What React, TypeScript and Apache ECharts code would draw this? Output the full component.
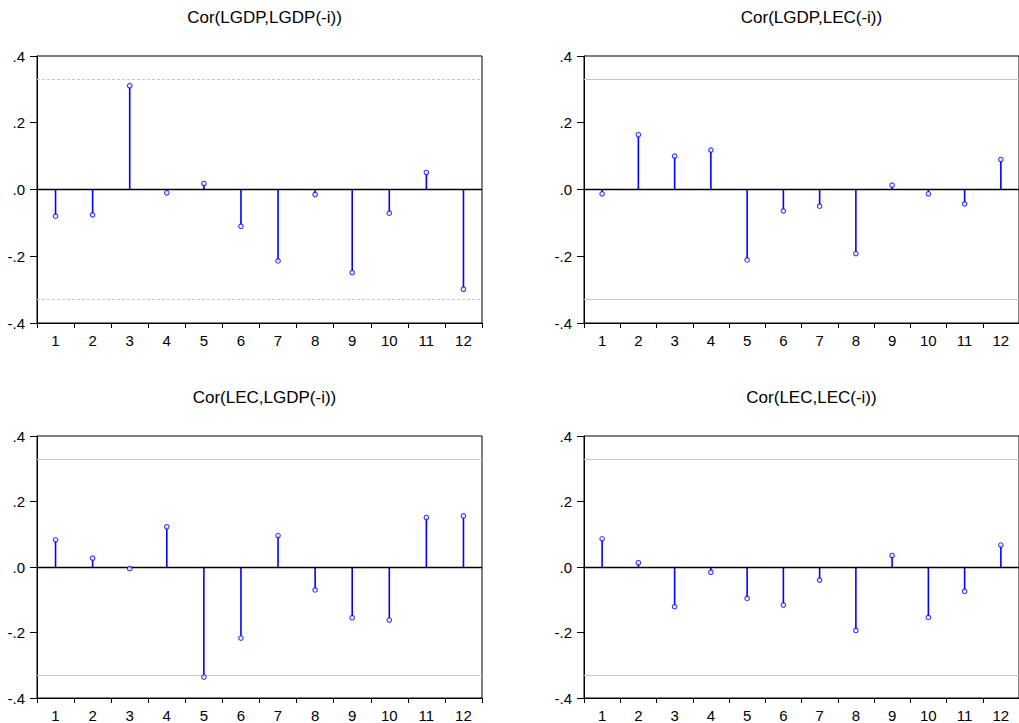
import React, { useEffect, useRef } from "react";
import * as echarts from "echarts";

const lags = ["1", "2", "3", "4", "5", "6", "7", "8", "9", "10", "11", "12"];
const titles = ["Cor(LGDP,LGDP(-i))", "Cor(LGDP,LEC(-i))", "Cor(LEC,LGDP(-i))", "Cor(LEC,LEC(-i))"];
const corLgdpLgdp = [-0.080, -0.076, 0.311, -0.010, 0.018, -0.110, -0.214, -0.015, -0.249, -0.071, 0.051, -0.299];
const corLgdpLec = [-0.013, 0.164, 0.100, 0.118, -0.211, -0.064, -0.050, -0.192, 0.013, -0.013, -0.043, 0.090];
const corLecLgdp = [0.083, 0.027, -0.005, 0.123, -0.336, -0.217, 0.096, -0.070, -0.155, -0.162, 0.151, 0.156];
const corLecLec = [0.086, 0.013, -0.121, -0.016, -0.096, -0.116, -0.040, -0.194, 0.035, -0.154, -0.074, 0.067];
const panels = [corLgdpLgdp, corLgdpLec, corLecLgdp, corLecLec];
const bandValue = 0.328;
const yTickLabels: Record<string, string> = { "0.4": ".4", "0.2": ".2", "0": ".0", "-0.2": "-.2", "-0.4": "-.4" };

const FONT = "Liberation Sans, Arial, sans-serif";

export default function App() {
  const ref = useRef<HTMLDivElement>(null);
  useEffect(() => {
    if (!ref.current) return;
    const chart = echarts.init(ref.current, undefined, { renderer: "svg" });
    const lefts = [37, 584, 37, 584];
    const tops = [56, 56, 436, 436];
    const W = 445;
    const H = 267;
    const grids = panels.map((_, i) => ({
      left: lefts[i],
      top: tops[i],
      width: W,
      height: H,
      show: true,
      borderColor: "#000",
      borderWidth: 1,
      backgroundColor: "#fff",
    }));
    const xAxes = panels.map((_, i) => ({
      type: "category",
      gridIndex: i,
      data: lags,
      boundaryGap: true,
      axisLine: { onZero: false, lineStyle: { color: "#000", width: 1 } },
      axisTick: { show: true, length: 5, lineStyle: { color: "#000" } },
      axisLabel: { color: "#000", fontSize: 15, fontFamily: FONT, margin: 10, interval: 0 },
      splitLine: { show: false },
    }));
    const yAxes = panels.map((_, i) => ({
      type: "value",
      gridIndex: i,
      min: -0.4,
      max: 0.4,
      interval: 0.2,
      axisLine: { show: true, lineStyle: { color: "#000", width: 1 } },
      axisTick: { show: true, length: 7, lineStyle: { color: "#000" } },
      axisLabel: {
        color: "#000",
        fontSize: 15,
        fontFamily: FONT,
        margin: 12,
        formatter: (v: number) => yTickLabels[String(Math.round(v * 10) / 10)] ?? String(v),
      },
      splitLine: { show: false },
    }));
    const series: any[] = [];
    panels.forEach((vals, i) => {
      series.push({
        type: "bar",
        xAxisIndex: i,
        yAxisIndex: i,
        data: vals,
        barWidth: 1.6,
        itemStyle: { color: "#0000ff" },
        silent: true,
        markLine: {
          silent: true,
          symbol: ["none", "none"],
          label: { show: false },
          data: [
            { yAxis: bandValue, lineStyle: { color: "#c8c8c8", width: 1, type: i === 0 ? [3, 2] : "solid" } },
            { yAxis: -bandValue, lineStyle: { color: "#c8c8c8", width: 1, type: i === 0 ? [3, 2] : "solid" } },
            { yAxis: 0, lineStyle: { color: "#000", width: 1.3, type: "solid" } },
          ],
        },
      });
      series.push({
        type: "scatter",
        xAxisIndex: i,
        yAxisIndex: i,
        data: vals,
        symbol: "circle",
        symbolSize: 4.5,
        itemStyle: { color: "#fff", borderColor: "#0000ff", borderWidth: 1.1 },
        silent: true,
        z: 5,
      });
    });
    const titleOpts = titles.map((t, i) => ({
      text: t,
      left: lefts[i] + W / 2,
      top: i < 2 ? 4 : 384,
      textAlign: "center",
      textStyle: { color: "#000", fontSize: 17, fontWeight: "normal", fontFamily: FONT },
    }));
    chart.setOption({
      animation: false,
      backgroundColor: "#fff",
      title: titleOpts,
      grid: grids,
      xAxis: xAxes,
      yAxis: yAxes,
      series,
    });
    return () => chart.dispose();
  }, []);
  return (
    <div
      ref={ref}
      style={{ position: "fixed", left: 0, top: 0, width: 1019, height: 723, overflow: "hidden", background: "#fff" }}
    />
  );
}
